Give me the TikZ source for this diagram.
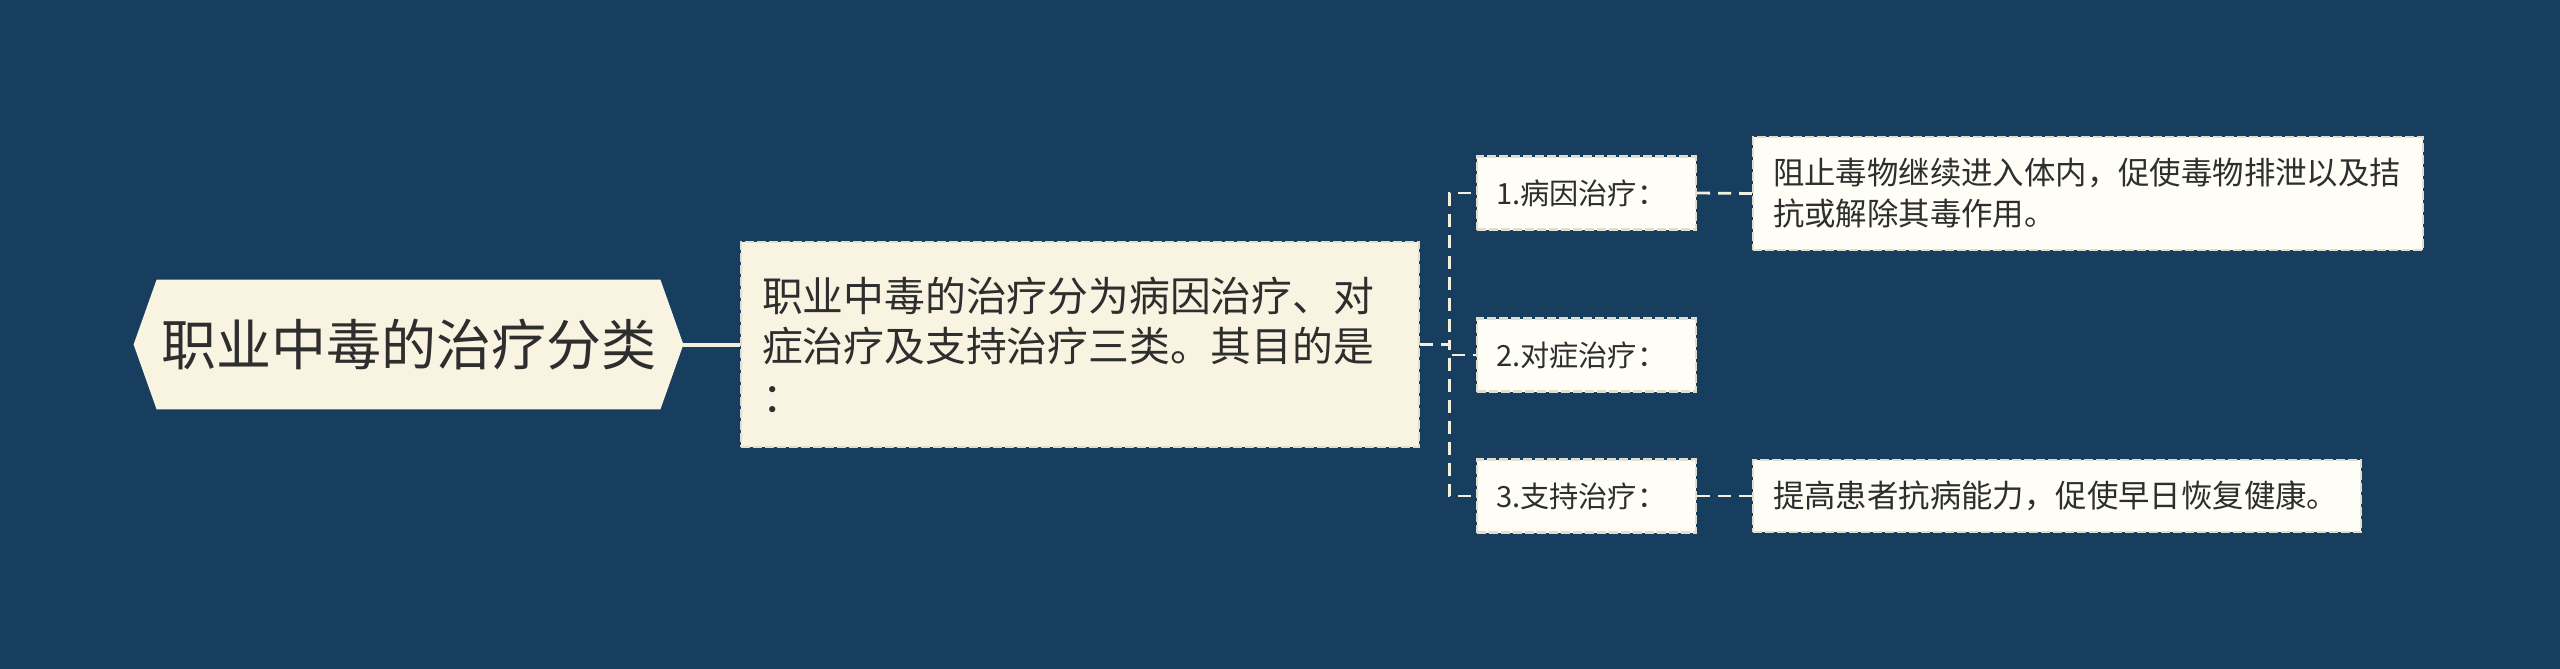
\documentclass[tikz,border=0pt]{standalone}
\usepackage{fontspec}
\newfontfamily\cjk{Noto Sans CJK SC}
\usetikzlibrary{calc,backgrounds}
\definecolor{bgblue}{HTML}{173E5E}
\definecolor{cream}{HTML}{F9F4E1}
\definecolor{paper}{HTML}{FEFDF6}
\definecolor{edge}{HTML}{E2DECE}
\definecolor{ink}{HTML}{2E2E2E}
\definecolor{wire}{HTML}{F3EFDD}
\tikzset{
  rootbox/.style={inner sep=0pt, minimum width=274.5pt, minimum height=64.5pt, text=ink,
    font={\cjk\fontsize{27.5pt}{32pt}\selectfont}},
  mainbox/.style={fill=cream, draw=edge, line width=1.2pt, dash pattern=on 4.5pt off 1.5pt,
    align=left, text width=318pt, inner xsep=10.5pt, inner ysep=0pt, minimum height=102.5pt,
    text=ink, font={\cjk\fontsize{20.4pt}{25.3pt}\selectfont}},
  midbox/.style={fill=paper, draw=edge, line width=1.2pt, dash pattern=on 4.5pt off 1.5pt,
    align=left, text width=90.5pt, inner xsep=9.5pt, inner ysep=0pt, minimum height=36.5pt,
    text=ink, font={\cjk\fontsize{14.6pt}{18pt}\selectfont}},
  leafbox/.style={fill=paper, draw=edge, line width=1.2pt, dash pattern=on 4.5pt off 1.5pt,
    align=left, inner xsep=10pt, inner ysep=0pt,
    text=ink, font={\cjk\fontsize{15.7pt}{20.4pt}\selectfont}},
  solidwire/.style={draw=wire, line width=2pt},
  dashwire/.style={draw=wire, line width=1.4pt, dash pattern=on 6.5pt off 4pt}
}
\begin{document}
\begin{tikzpicture}[x=0.5pt,y=-0.5pt]
\useasboundingbox (0,0) rectangle (2560,669);
\node[rootbox] (root) at (408.5,344.5) {职业中毒的治疗分类};
\begin{scope}[on background layer]
  \fill[bgblue] (0,0) rectangle (2560,669);
  \fill[cream] (root.west) -- ($(root.north west)+(11.5pt,0)$) -- ($(root.north east)+(-11.5pt,0)$)
    -- (root.east) -- ($(root.south east)+(-11.5pt,0)$) -- ($(root.south west)+(11.5pt,0)$) -- cycle;
\end{scope}
\node[mainbox] (main) at (1080,344.5) {职业中毒的治疗分为病因治疗、对\\症治疗及支持治疗三类。其目的是\\：};
\node[midbox] (n1) at (1586.5,193) {1.病因治疗：};
\node[midbox] (n2) at (1586.5,355) {2.对症治疗：};
\node[midbox] (n3) at (1586.5,496) {3.支持治疗：};
\node[leafbox, text width=315pt, minimum height=56.5pt] (l1) at (2088,193.5) {阻止毒物继续进入体内，促使毒物排泄以及拮\\抗或解除其毒作用。};
\node[leafbox, text width=284pt, minimum height=36pt] (l3) at (2057,496) {提高患者抗病能力，促使早日恢复健康。};
\coordinate (jn) at ($(main.east)+(14.5pt,0)$);
\begin{scope}[on background layer]
\draw[solidwire] (root.east) -- (main.west);
\draw[dashwire] (main.east) -- (jn) |- (n1.west);
\draw[dashwire] (main.east) -- (jn) |- (n2.west);
\draw[dashwire] (main.east) -- (jn) |- (n3.west);
\draw[dashwire] (n1.east) -- (l1.west);
\draw[dashwire] (n3.east) -- (l3.west);
\end{scope}
\end{tikzpicture}
\end{document}
